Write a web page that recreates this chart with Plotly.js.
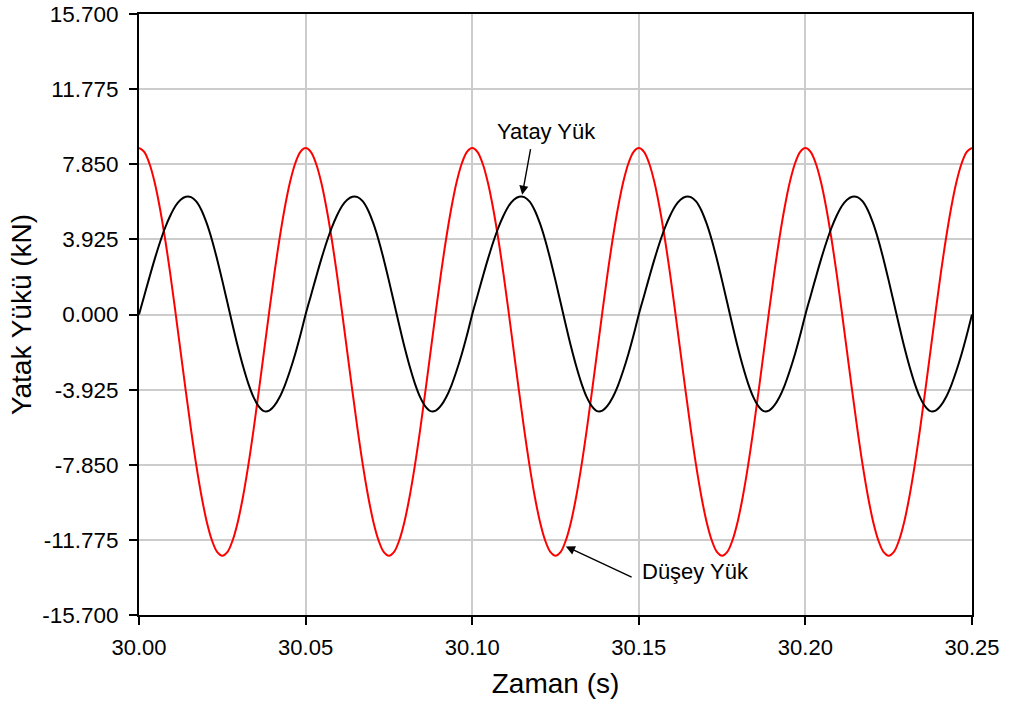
<!DOCTYPE html>
<html>
<head>
<meta charset="utf-8">
<script src="https://cdn.plot.ly/plotly-3.0.1.min.js"></script>
<style>html,body{margin:0;padding:0;background:#fff;}#chart{width:1018px;height:706px;}</style>
</head>
<body>
<div id="chart"></div>
<script>
// Time samples (s) used for both series
const zaman_s = [
  30.0000000, 30.0015625, 30.0031250, 30.0046875, 30.0062500, 30.0078125, 30.0093750, 30.0109375,
  30.0125000, 30.0140625, 30.0156250, 30.0171875, 30.0187500, 30.0203125, 30.0218750, 30.0234375,
  30.0250000, 30.0265625, 30.0281250, 30.0296875, 30.0312500, 30.0328125, 30.0343750, 30.0359375,
  30.0375000, 30.0390625, 30.0406250, 30.0421875, 30.0437500, 30.0453125, 30.0468750, 30.0484375,
  30.0500000, 30.0515625, 30.0531250, 30.0546875, 30.0562500, 30.0578125, 30.0593750, 30.0609375,
  30.0625000, 30.0640625, 30.0656250, 30.0671875, 30.0687500, 30.0703125, 30.0718750, 30.0734375,
  30.0750000, 30.0765625, 30.0781250, 30.0796875, 30.0812500, 30.0828125, 30.0843750, 30.0859375,
  30.0875000, 30.0890625, 30.0906250, 30.0921875, 30.0937500, 30.0953125, 30.0968750, 30.0984375,
  30.1000000, 30.1015625, 30.1031250, 30.1046875, 30.1062500, 30.1078125, 30.1093750, 30.1109375,
  30.1125000, 30.1140625, 30.1156250, 30.1171875, 30.1187500, 30.1203125, 30.1218750, 30.1234375,
  30.1250000, 30.1265625, 30.1281250, 30.1296875, 30.1312500, 30.1328125, 30.1343750, 30.1359375,
  30.1375000, 30.1390625, 30.1406250, 30.1421875, 30.1437500, 30.1453125, 30.1468750, 30.1484375,
  30.1500000, 30.1515625, 30.1531250, 30.1546875, 30.1562500, 30.1578125, 30.1593750, 30.1609375,
  30.1625000, 30.1640625, 30.1656250, 30.1671875, 30.1687500, 30.1703125, 30.1718750, 30.1734375,
  30.1750000, 30.1765625, 30.1781250, 30.1796875, 30.1812500, 30.1828125, 30.1843750, 30.1859375,
  30.1875000, 30.1890625, 30.1906250, 30.1921875, 30.1937500, 30.1953125, 30.1968750, 30.1984375,
  30.2000000, 30.2015625, 30.2031250, 30.2046875, 30.2062500, 30.2078125, 30.2093750, 30.2109375,
  30.2125000, 30.2140625, 30.2156250, 30.2171875, 30.2187500, 30.2203125, 30.2218750, 30.2234375,
  30.2250000, 30.2265625, 30.2281250, 30.2296875, 30.2312500, 30.2328125, 30.2343750, 30.2359375,
  30.2375000, 30.2390625, 30.2406250, 30.2421875, 30.2437500, 30.2453125, 30.2468750, 30.2484375,
  30.2500000
];

// Düşey Yük (vertical load, kN), red
const dusey_kN = [
  8.70, 8.50, 7.89, 6.91, 5.58, 3.97, 2.13, 0.13, -1.95, -4.03, -6.03, -7.87, -9.48, -10.81, -11.79, -12.40,
  -12.60, -12.40, -11.79, -10.81, -9.48, -7.87, -6.03, -4.03, -1.95, 0.13, 2.13, 3.97, 5.58, 6.91, 7.89, 8.50,
  8.70, 8.50, 7.89, 6.91, 5.58, 3.97, 2.13, 0.13, -1.95, -4.03, -6.03, -7.87, -9.48, -10.81, -11.79, -12.40,
  -12.60, -12.40, -11.79, -10.81, -9.48, -7.87, -6.03, -4.03, -1.95, 0.13, 2.13, 3.97, 5.58, 6.91, 7.89, 8.50,
  8.70, 8.50, 7.89, 6.91, 5.58, 3.97, 2.13, 0.13, -1.95, -4.03, -6.03, -7.87, -9.48, -10.81, -11.79, -12.40,
  -12.60, -12.40, -11.79, -10.81, -9.48, -7.87, -6.03, -4.03, -1.95, 0.13, 2.13, 3.97, 5.58, 6.91, 7.89, 8.50,
  8.70, 8.50, 7.89, 6.91, 5.58, 3.97, 2.13, 0.13, -1.95, -4.03, -6.03, -7.87, -9.48, -10.81, -11.79, -12.40,
  -12.60, -12.40, -11.79, -10.81, -9.48, -7.87, -6.03, -4.03, -1.95, 0.13, 2.13, 3.97, 5.58, 6.91, 7.89, 8.50,
  8.70, 8.50, 7.89, 6.91, 5.58, 3.97, 2.13, 0.13, -1.95, -4.03, -6.03, -7.87, -9.48, -10.81, -11.79, -12.40,
  -12.60, -12.40, -11.79, -10.81, -9.48, -7.87, -6.03, -4.03, -1.95, 0.13, 2.13, 3.97, 5.58, 6.91, 7.89, 8.50,
  8.70
];

// Yatay Yük (horizontal load, kN), black
const yatay_kN = [
  0.00, 0.97, 1.94, 2.88, 3.75, 4.52, 5.16, 5.67, 6.00, 6.15, 6.13, 5.91, 5.45, 4.77, 3.91, 2.89,
  1.77, 0.60, -0.57, -1.70, -2.72, -3.61, -4.32, -4.80, -5.05, -5.02, -4.76, -4.32, -3.71, -2.94, -2.06, -1.07,
  0.00, 0.97, 1.94, 2.88, 3.75, 4.52, 5.16, 5.67, 6.00, 6.15, 6.13, 5.91, 5.45, 4.77, 3.91, 2.89,
  1.77, 0.60, -0.57, -1.70, -2.72, -3.61, -4.32, -4.80, -5.05, -5.02, -4.76, -4.32, -3.71, -2.94, -2.06, -1.07,
  0.00, 0.97, 1.94, 2.88, 3.75, 4.52, 5.16, 5.67, 6.00, 6.15, 6.13, 5.91, 5.45, 4.77, 3.91, 2.89,
  1.77, 0.60, -0.57, -1.70, -2.72, -3.61, -4.32, -4.80, -5.05, -5.02, -4.76, -4.32, -3.71, -2.94, -2.06, -1.07,
  0.00, 0.97, 1.94, 2.88, 3.75, 4.52, 5.16, 5.67, 6.00, 6.15, 6.13, 5.91, 5.45, 4.77, 3.91, 2.89,
  1.77, 0.60, -0.57, -1.70, -2.72, -3.61, -4.32, -4.80, -5.05, -5.02, -4.76, -4.32, -3.71, -2.94, -2.06, -1.07,
  0.00, 0.97, 1.94, 2.88, 3.75, 4.52, 5.16, 5.67, 6.00, 6.15, 6.13, 5.91, 5.45, 4.77, 3.91, 2.89,
  1.77, 0.60, -0.57, -1.70, -2.72, -3.61, -4.32, -4.80, -5.05, -5.02, -4.76, -4.32, -3.71, -2.94, -2.06, -1.07,
  0.00
];

const yTicks = [-15.7, -11.775, -7.85, -3.925, 0, 3.925, 7.85, 11.775, 15.7];
const yTickText = ["-15.700", "-11.775", "-7.850", "-3.925", "0.000", "3.925", "7.850", "11.775", "15.700"];
const xTicks = [30.00, 30.05, 30.10, 30.15, 30.20, 30.25];
const xTickText = ["30.00", "30.05", "30.10", "30.15", "30.20", "30.25"];

const FONT = '"Liberation Sans", Arial, Helvetica, sans-serif';

const traces = [
  {x: zaman_s, y: dusey_kN, type: 'scatter', mode: 'lines', name: 'Düşey Yük',
   line: {color: '#ff0000', width: 2, shape: 'spline', smoothing: 1}},
  {x: zaman_s, y: yatay_kN, type: 'scatter', mode: 'lines', name: 'Yatay Yük',
   line: {color: '#000000', width: 2, shape: 'spline', smoothing: 1}}
];

const layout = {
  width: 1018, height: 706,
  margin: {l: 139, r: 46, t: 14, b: 91},
  paper_bgcolor: '#ffffff', plot_bgcolor: '#ffffff',
  showlegend: false,
  font: {family: FONT, color: '#000000', size: 23},
  xaxis: {
    range: [30.0, 30.25], tickvals: xTicks, ticktext: xTickText,
    showgrid: true, gridcolor: '#cccccc', gridwidth: 2,
    showline: true, linecolor: '#000000', linewidth: 2, mirror: true,
    ticks: 'outside', ticklen: 8, tickwidth: 2, tickcolor: '#000000',
    ticklabelstandoff: 4,
    zeroline: false,
    tickfont: {family: FONT, size: 22, color: '#000000'},
    title: {text: 'Zaman (s)', font: {family: FONT, size: 28, color: '#000000'}, standoff: 14}
  },
  yaxis: {
    range: [-15.7, 15.7], tickvals: yTicks, ticktext: yTickText,
    showgrid: true, gridcolor: '#cccccc', gridwidth: 2,
    showline: true, linecolor: '#000000', linewidth: 2, mirror: true,
    ticks: 'outside', ticklen: 8, tickwidth: 2, tickcolor: '#000000',
    ticklabelstandoff: 6,
    zeroline: false,
    tickfont: {family: FONT, size: 22.5, color: '#000000'},
    title: {text: 'Yatak Yükü (kN)', font: {family: FONT, size: 28, color: '#000000'}, standoff: 2}
  },
  annotations: [
    {x: 30.1150, y: 6.25, ax: 30.1176, ay: 8.72, axref: 'x', ayref: 'y', xref: 'x', yref: 'y',
     text: '', showarrow: true, arrowhead: 2, arrowsize: 1.3, arrowwidth: 1.4, arrowcolor: '#000000', standoff: 0},
    {x: 30.1223, y: 9.55, xref: 'x', yref: 'y', text: 'Yatay Yük', showarrow: false,
     xanchor: 'center', yanchor: 'middle', font: {family: FONT, size: 22, color: '#000000'}},
    {x: 30.1281, y: -12.12, ax: 30.1483, ay: -13.76, axref: 'x', ayref: 'y', xref: 'x', yref: 'y',
     text: '', showarrow: true, arrowhead: 2, arrowsize: 1.3, arrowwidth: 1.4, arrowcolor: '#000000', standoff: 0},
    {x: 30.1669, y: -13.44, xref: 'x', yref: 'y', text: 'Düşey Yük', showarrow: false,
     xanchor: 'center', yanchor: 'middle', font: {family: FONT, size: 22, color: '#000000'}}
  ]
};

Plotly.newPlot('chart', traces, layout, {displayModeBar: false, staticPlot: true});
</script>
</body>
</html>
